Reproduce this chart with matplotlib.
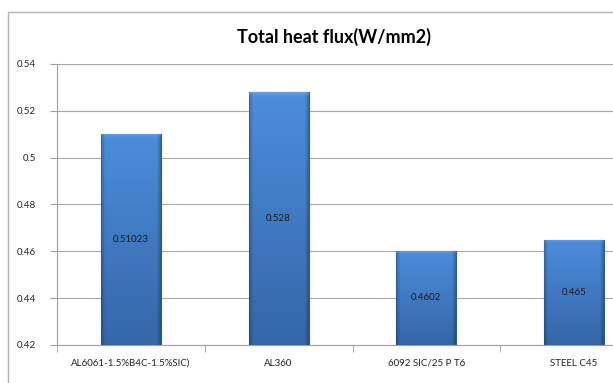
import matplotlib
matplotlib.use("Agg")
import matplotlib.pyplot as plt
import numpy as np
from matplotlib.patches import Rectangle

categories = ["AL6061-1.5%B4C-1.5%SIC)", "AL360", "6092 SIC/25 P T6", "STEEL C45"]
values = [0.51023, 0.528, 0.4602, 0.465]
labels = ["0.51023", "0.528", "0.4602", "0.465"]
yticks = [0.42, 0.44, 0.46, 0.48, 0.5, 0.52, 0.54]
ytick_labels = ["0.42", "0.44", "0.46", "0.48", "0.5", "0.52", "0.54"]

W, H = 613, 383
fig = plt.figure(figsize=(W/100, H/100), dpi=100)
plt.rcParams['font.family'] = ['Lato', 'DejaVu Sans']

# outer chart border
fig.patches.append(Rectangle((8/W, -0.2), 1.2, 1 - 12/H + 0.2, transform=fig.transFigure,
                             fill=False, edgecolor='#b0b0b0', linewidth=1.0))

ax = fig.add_axes([57/W, 1 - 345/H, (648-57)/W, (345-64)/H])
ax.set_ylim(0.42, 0.54)
ax.set_xlim(-0.5, 3.5)

x = np.arange(len(categories))
bars = ax.bar(x, values, width=0.405, bottom=0, color='#3d78c4', edgecolor='#2d5b98',
              linewidth=0.8, zorder=3)

# vertical gradient with darker sides (bevel-like)
ny, nx = 128, 64
vy = np.linspace(0, 1, ny)[:, None]
vx = np.linspace(0, 1, nx)[None, :]
side = np.clip(1 - np.minimum(vx, 1 - vx) / 0.06, 0, 1)
for b in bars:
    x0, w, h = b.get_x(), b.get_width(), b.get_height()
    top_c = np.array([0x4c, 0x8d, 0xdc]) / 255
    bot_c = np.array([0x35, 0x66, 0xa8]) / 255
    img = bot_c * (1 - vy[..., None]) + top_c * vy[..., None]
    img = np.broadcast_to(img, (ny, nx, 3)).copy()
    img = img * (1 - 0.25 * side[..., None])
    # light top band
    frac_px = 4.0 / ((h - 0.42) / 0.12 * 281)
    topband = np.clip(1 - (1 - vy) / max(frac_px, 1e-3), 0, 1)
    img = img * (1 - 0.35 * topband[..., None]) + np.array([0.55, 0.72, 0.95]) * 0.35 * topband[..., None]
    im = ax.imshow(np.clip(img, 0, 1), extent=[x0, x0 + w, 0.42, h],
                   aspect='auto', zorder=3.5, origin='lower', interpolation='bilinear')
    im.set_clip_path(b)

for xi, v, lab in zip(x, values, labels):
    ax.text(xi, (0.42 + v) / 2, lab, ha='center', va='center', fontsize=7,
            color='#1a1a1a', zorder=5)

ax.set_yticks(yticks)
ax.set_yticklabels(ytick_labels, fontsize=7, color='#222222')
ax.yaxis.grid(True, color='#a8a8a8', linewidth=0.8, zorder=0)
ax.set_axisbelow(True)

ax.set_xticks(x)
ax.set_xticklabels(categories, fontsize=7, color='#222222')
ax.tick_params(axis='x', length=0, pad=10)
ax.set_xticks([-0.5, 0.5, 1.5, 2.5, 3.5], minor=True)
ax.tick_params(axis='x', which='minor', length=5, color='#a0a0a0')
ax.tick_params(axis='y', length=5, color='#a0a0a0', pad=10)

for s in ['top', 'right']:
    ax.spines[s].set_visible(False)
ax.spines['left'].set_color('#a0a0a0')
ax.spines['bottom'].set_color('#a0a0a0')

fig.text(334/W, 1 - 37/H, "Total heat flux(W/mm2)", ha='center', va='center',
         fontsize=13, fontweight='bold')

fig.savefig("out.png", dpi=100)
